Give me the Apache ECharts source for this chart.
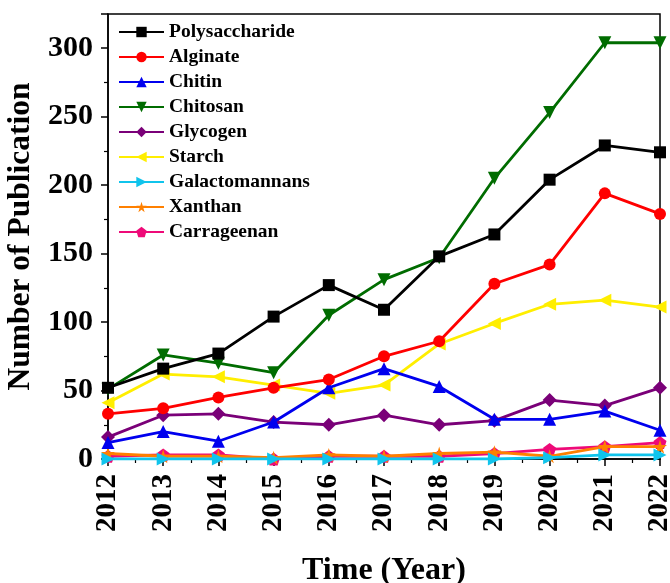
<!DOCTYPE html>
<html><head><meta charset="utf-8">
<script src="https://cdn.jsdelivr.net/npm/echarts@6/dist/echarts.min.js"></script>
<style>html,body{margin:0;padding:0;background:#fff}#c{width:670px;height:583px}</style>
</head><body><div id="c"></div>
<script>
const years = [2012,2013,2014,2015,2016,2017,2018,2019,2020,2021,2022];
const polysaccharide = [52,66,77,104,127,109,148,164,204,229,224];
const alginate = [33,37,45,52,58,75,86,128,142,194,179];
const chitin = [12,20,13,27,52,66,53,29,29,35,21];
const chitosan = [51,76,70,63,105,131,147,205,253,304,304];
const glycogen = [16,32,33,27,25,32,25,28,43,39,52];
const starch = [41,62,60,54,48,54,84,99,113,116,111];
const galactomannans = [0,0,0,0,0,0,0,0,1,3,3];
const xanthan = [4,2,2,1,3,2,4,5,2,9,9];
const carrageenan = [2,3,3,0,2,2,2,4,7,9,12];

const names = ['Polysaccharide','Alginate','Chitin','Chitosan','Glycogen','Starch','Galactomannans','Xanthan','Carrageenan'];
const values = [polysaccharide,alginate,chitin,chitosan,glycogen,starch,galactomannans,xanthan,carrageenan];
const colors = ['#000000','#ff0000','#0000ee','#006c00','#7a0078','#ffee00','#10c4ec','#ff8000','#ee0a78'];
const star = 'path://M50,0 L61,35 L98,35 L68,57 L79,91 L50,70 L21,91 L32,57 L2,35 L39,35 Z';
const pent = 'path://M50,0 L100,38 L81,100 L19,100 L0,38 Z';
const symbols = ['rect','circle','triangle','triangle','diamond','triangle','triangle',star,pent];
const rotates = [0,0,0,180,0,90,-90,0,0];
const sizes = [12,12,13,13,14,13,13,14,13];

const font = 'Liberation Serif, Times New Roman, serif';
const series = names.map((n,i)=>({
  name:n, type:'line', data: years.map((y,j)=>[y, values[i][j]]),
  symbol: symbols[i], symbolRotate: rotates[i], symbolSize: sizes[i],
  lineStyle:{color:colors[i], width:2.8}, itemStyle:{color:colors[i]},
  z: 10 - i
}));

const chart = echarts.init(document.getElementById('c'));
chart.setOption({
  backgroundColor:'#fff',
  animation:false,
  grid:{left:108,right:10,top:14,bottom:124,outerBoundsMode:'none',containLabel:false,
        show:true,borderColor:'#000',borderWidth:1.5,backgroundColor:'transparent'},
  legend:{
    orient:'vertical', left:113, top:17, itemWidth:45, itemHeight:13, itemGap:5,
    textStyle:{fontFamily:font, fontWeight:'bold', fontSize:19.5, color:'#000'},
    data: names
  },
  xAxis:{
    type:'value', min:2012, max:2022, interval:1,
    name:'Time (Year)', nameLocation:'middle', nameGap:96,
    nameTextStyle:{fontFamily:font, fontWeight:'bold', fontSize:32, color:'#000'},
    axisLine:{lineStyle:{color:'#000', width:1.5}},
    axisTick:{show:true, length:7, lineStyle:{color:'#000', width:1.5}},
    minorTick:{show:true, splitNumber:2, length:4, lineStyle:{color:'#000', width:1.2}},
    splitLine:{show:false},
    axisLabel:{rotate:90, margin:15, fontFamily:font, fontWeight:'bold', fontSize:29, color:'#000', formatter:v=>String(v)}
  },
  yAxis:{
    type:'value', min:0, max:325, interval:50,
    name:'Number of Publication', nameLocation:'middle', nameGap:69,
    nameTextStyle:{fontFamily:font, fontWeight:'bold', fontSize:31.5, color:'#000'},
    axisLine:{show:true, lineStyle:{color:'#000', width:1.5}},
    axisTick:{show:true, length:7, lineStyle:{color:'#000', width:1.5}},
    minorTick:{show:true, splitNumber:2, length:4, lineStyle:{color:'#000', width:1.2}},
    splitLine:{show:false},
    axisLabel:{margin:15, fontFamily:font, fontWeight:'bold', fontSize:30, color:'#000', showMaxLabel:false}
  },
  series: series
});
</script></body></html>
